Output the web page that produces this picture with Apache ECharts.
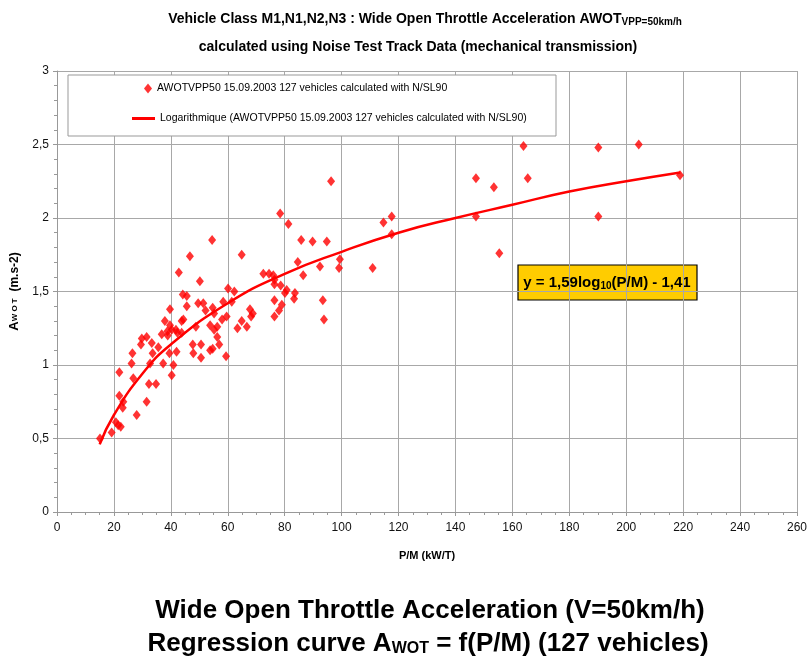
<!DOCTYPE html>
<html>
<head>
<meta charset="utf-8">
<title>AWOT regression</title>
<script src="https://cdn.jsdelivr.net/npm/echarts@6/dist/echarts.min.js"></script>
<style>
  html, body { margin: 0; padding: 0; background: #fff; }
  #chart { width: 810px; height: 659px; }
</style>
</head>
<body>
<div id="chart"></div>
<script>
const pmValues = [
  15.1, 19.2, 20.7, 21.5, 22.4, 28.0, 21.9, 23.3, 23.1, 31.5,
  21.9, 26.8, 26.2, 26.5, 32.3, 34.8, 33.6, 32.7, 37.3, 40.3,
  40.9, 29.8, 31.5, 29.5, 33.3, 35.6, 36.8, 38.9, 39.5, 42.0,
  37.9, 39.7, 43.8, 40.3, 42.3, 47.7, 47.9, 54.5, 46.7, 42.8,
  50.2, 60.1, 62.3, 44.2, 45.6, 45.6, 49.6, 51.4, 52.2, 54.7,
  55.2, 58.4, 61.4, 59.6, 58.0, 63.4, 39.7, 50.6, 50.6, 53.8,
  57.0, 59.4, 48.8, 53.8, 55.2, 56.3, 64.9, 78.4, 81.3, 85.8,
  89.8, 94.8, 84.6, 92.4, 86.5, 99.4, 99.1, 72.5, 74.5, 76.0,
  76.4, 76.4, 78.6, 80.7, 80.1, 83.6, 83.3, 76.4, 79.0, 78.0,
  76.4, 93.4, 93.8, 67.8, 68.8, 64.9, 66.7, 96.3, 110.9, 114.7,
  117.6, 117.6, 147.2, 147.2, 153.5, 155.4, 163.9, 165.4, 190.2, 190.2,
  204.4, 218.9, 38.8, 41.8, 44.4, 43.8, 56.3, 54.7, 68.2
];
const awotValues = [
  0.50, 0.54, 0.61, 0.59, 0.58, 0.66, 0.79, 0.75, 0.71, 0.75,
  0.95, 0.91, 1.01, 1.08, 0.87, 0.87, 1.08, 1.01, 1.01, 0.93,
  1.00, 1.18, 1.19, 1.14, 1.15, 1.12, 1.21, 1.20, 1.08, 1.09,
  1.30, 1.27, 1.30, 1.24, 1.22, 1.14, 1.08, 1.85, 1.74, 1.63,
  1.57, 1.52, 1.50, 1.48, 1.47, 1.40, 1.42, 1.42, 1.37, 1.39,
  1.35, 1.43, 1.43, 1.33, 1.31, 1.25, 1.38, 1.14, 1.05, 1.10,
  1.14, 1.06, 1.26, 1.27, 1.24, 1.19, 1.75, 2.03, 1.96, 1.85,
  1.84, 1.84, 1.70, 1.67, 1.61, 1.72, 1.66, 1.62, 1.62, 1.61,
  1.58, 1.55, 1.54, 1.51, 1.49, 1.49, 1.45, 1.44, 1.41, 1.37,
  1.33, 1.44, 1.31, 1.38, 1.35, 1.30, 1.26, 2.25, 1.66, 1.97,
  2.01, 1.89, 2.27, 2.01, 2.21, 1.76, 2.49, 2.27, 2.48, 2.01,
  2.50, 2.29, 1.23, 1.24, 1.31, 1.22, 1.26, 1.11, 1.33
];

// logarithmic trend curve
const trendX = [15, 20, 30, 40, 60, 80, 100, 120, 140, 160, 180, 200, 219];
const trendY = [0.46, 0.66, 0.94, 1.14, 1.42, 1.62, 1.77, 1.90, 2.00, 2.09, 2.18, 2.25, 2.31];

const yTickLabels = ['0', '0,5', '1', '1,5', '2', '2,5', '3'];

const scatterName = 'AWOTVPP50 15.09.2003 127 vehicles calculated with N/SL90';
const trendName = 'Logarithmique (AWOTVPP50 15.09.2003 127 vehicles calculated with N/SL90)';

const sans = '"Liberation Sans", Arial, sans-serif';

const points = pmValues.map((x, i) => [x, awotValues[i]]);
const trend = trendX.map((x, i) => [x, trendY[i]]);

const chart = echarts.init(document.getElementById('chart'));
chart.setOption({
  animation: false,
  backgroundColor: '#fff',
  title: [
    {
      text: '{m|Vehicle Class M1,N1,N2,N3 : Wide Open Throttle Acceleration AWOT}{s|VPP=50km/h}',
      left: 425, top: 11, textAlign: 'center', padding: 0,
      textStyle: {
        rich: {
          m: { fontSize: 14, fontWeight: 'bold', fontFamily: sans, color: '#000' },
          s: { fontSize: 10, fontWeight: 'bold', fontFamily: sans, color: '#000', padding: [6, 0, 0, 0] }
        }
      }
    },
    {
      text: 'calculated using Noise Test Track Data (mechanical transmission)',
      left: 418, top: 40, textAlign: 'center', padding: 0,
      textStyle: { fontSize: 14, fontWeight: 'bold', fontFamily: sans, color: '#000' }
    },
    {
      text: 'Wide Open Throttle Acceleration (V=50km/h)',
      left: 430, top: 598, textAlign: 'center', padding: 0,
      textStyle: { fontSize: 26, fontWeight: 'bold', fontFamily: sans, color: '#000' }
    },
    {
      text: '{b|Regression curve A}{s|WOT}{b| = f(P/M) (127 vehicles)}',
      left: 428, top: 631, textAlign: 'center', padding: 0,
      textStyle: {
        rich: {
          b: { fontSize: 26, fontWeight: 'bold', fontFamily: sans, color: '#000' },
          s: { fontSize: 16, fontWeight: 'bold', fontFamily: sans, color: '#000', padding: [9, 0, 0, 0] }
        }
      }
    }
  ],
  grid: { left: 57, right: 13, top: 71, bottom: 147 },
  legend: [
    {
      data: [{ name: scatterName, icon: 'diamond' }],
      left: 144, top: 83, padding: 0, z: 5,
      itemWidth: 8, itemHeight: 10,
      textStyle: { fontSize: 10.5, fontFamily: sans, color: '#000' }
    },
    {
      data: [{ name: trendName, icon: 'rect' }],
      left: 132, top: 113, padding: 0, z: 5,
      itemWidth: 23, itemHeight: 3,
      textStyle: { fontSize: 10.5, fontFamily: sans, color: '#000' }
    }
  ],
  xAxis: {
    type: 'value', min: 0, max: 260, interval: 20,
    name: 'P/M (kW/T)', nameLocation: 'middle', nameGap: 38,
    nameTextStyle: { fontSize: 11, fontWeight: 'bold', fontFamily: sans, color: '#000' },
    axisLine: { lineStyle: { color: '#999' } },
    axisTick: { show: true, length: 4, lineStyle: { color: '#999' } },
    minorTick: { show: true, splitNumber: 4, length: 3, lineStyle: { color: '#999' } },
    axisLabel: { fontSize: 12, fontFamily: sans, color: '#111', margin: 10 },
    splitLine: { show: true, lineStyle: { color: '#a8a8a8' } }
  },
  yAxis: {
    type: 'value', min: 0, max: 3, interval: 0.5,
    name: '{a|A}{s|W O T}{b|  (m.s-2)}', nameLocation: 'middle', nameGap: 29, nameRotate: 90,
    nameTextStyle: {
      rich: {
        a: { fontSize: 13, fontWeight: 'bold', fontFamily: sans, color: '#000' },
        s: { fontSize: 8, fontWeight: 'bold', fontFamily: sans, color: '#000' },
        b: { fontSize: 12, fontWeight: 'bold', fontFamily: sans, color: '#000' }
      }
    },
    axisLine: { show: true, lineStyle: { color: '#999' } },
    axisTick: { show: true, length: 4, lineStyle: { color: '#999' } },
    minorTick: { show: true, splitNumber: 5, length: 3, lineStyle: { color: '#999' } },
    axisLabel: {
      fontSize: 12, fontFamily: sans, color: '#111', margin: 8,
      formatter: (v) => yTickLabels[Math.round(v / 0.5)]
    },
    splitLine: { show: true, lineStyle: { color: '#a8a8a8' } }
  },
  graphic: [
    {
      type: 'rect', z: 3,
      shape: { x: 68, y: 75, width: 488, height: 61 },
      style: { fill: '#fff', stroke: '#999', lineWidth: 1 }
    },
    {
      type: 'group', z: 10,
      children: [
        {
          type: 'rect',
          shape: { x: 518, y: 265, width: 179, height: 35 },
          style: { fill: '#ffcc00', stroke: '#000', lineWidth: 1.2 }
        },
        {
          type: 'text', x: 607, y: 283,
          style: {
            text: '{b|y = 1,59log}{s|10}{b|(P/M) - 1,41}',
            align: 'center', verticalAlign: 'middle',
            rich: {
              b: { fontSize: 15, fontWeight: 'bold', fontFamily: sans, fill: '#000' },
              s: { fontSize: 10, fontWeight: 'bold', fontFamily: sans, fill: '#000', padding: [6, 0, 0, 0] }
            }
          }
        }
      ]
    }
  ],
  series: [
    {
      name: scatterName,
      type: 'scatter',
      symbol: 'diamond',
      symbolSize: [8, 10],
      itemStyle: { color: '#ff0000' },
      data: points,
      z: 3
    },
    {
      name: trendName,
      type: 'line',
      symbol: 'none',
      smooth: true,
      lineStyle: { color: '#ff0000', width: 2.5 },
      itemStyle: { color: '#ff0000' },
      data: trend,
      z: 2
    }
  ]
});
</script>
</body>
</html>
